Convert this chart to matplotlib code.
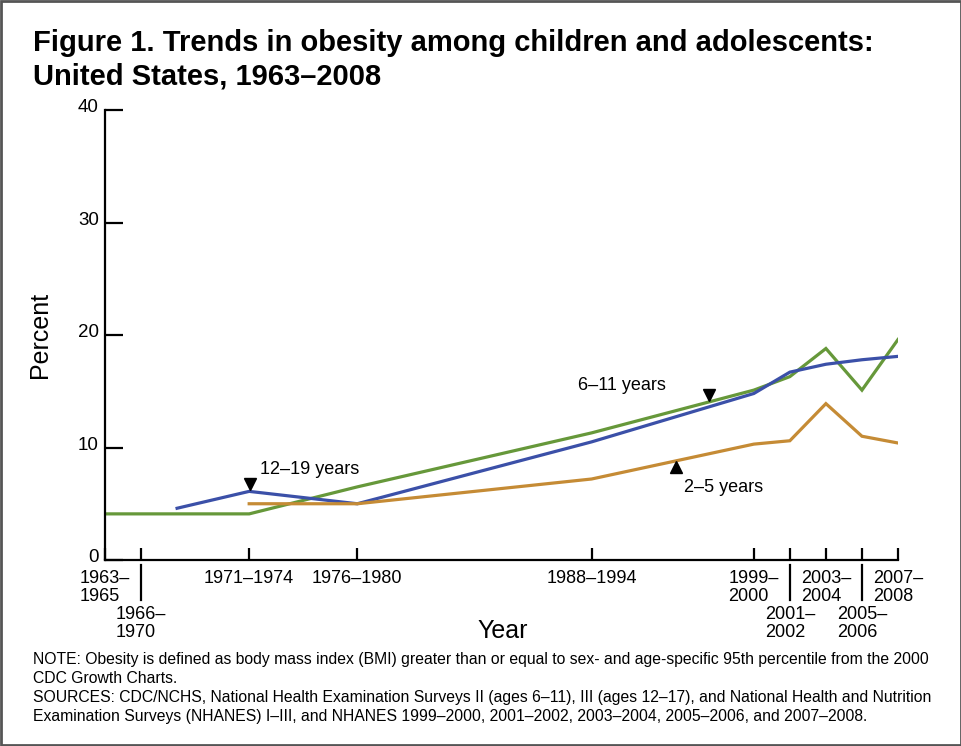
import matplotlib.pyplot as plt
from matplotlib import font_manager
from matplotlib.patches import Rectangle
from matplotlib.transforms import ScaledTranslation

plt.rcParams['font.family'] = ['Liberation Sans', 'DejaVu Sans']

# survey periods, placed on a year scale (position used for each period)
periods = ['1963–\n1965', '1966–\n1970', '1971–1974', '1976–1980', '1988–1994',
           '1999–\n2000', '2001–\n2002', '2003–\n2004', '2005–\n2006', '2007–\n2008']
period_x = [1963, 1965, 1971, 1977, 1990, 1999, 2001, 2003, 2005, 2007]
staggered = [False, True, False, False, False, False, True, False, True, False]

# obesity percent by age group
x_6_11 = [1963, 1971, 1977, 1990, 1999, 2001, 2003, 2005, 2007]
y_6_11 = [4.1, 4.1, 6.5, 11.3, 15.1, 16.3, 18.8, 15.1, 19.6]
x_12_19 = [1967, 1971, 1977, 1990, 1999, 2001, 2003, 2005, 2007]
y_12_19 = [4.6, 6.1, 5.0, 10.5, 14.8, 16.7, 17.4, 17.8, 18.1]
x_2_5 = [1971, 1977, 1990, 1999, 2001, 2003, 2005, 2007]
y_2_5 = [5.0, 5.0, 7.2, 10.3, 10.6, 13.9, 11.0, 10.4]

green = '#66983A'
blue = '#3B50A8'
orange = '#C58B35'

fig = plt.figure(figsize=(9.62, 7.46), dpi=100)
ax = fig.add_axes([105/962, 1 - 560/746, 793/962, 450/746])

ax.plot(x_6_11, y_6_11, color=green, lw=2.3, solid_joinstyle='miter')
ax.plot(x_12_19, y_12_19, color=blue, lw=2.3, solid_joinstyle='miter')
ax.plot(x_2_5, y_2_5, color=orange, lw=2.3, solid_joinstyle='miter')

ax.set_xlim(1963, 2007)
ax.set_ylim(0, 40)
for s in ['top', 'right']:
    ax.spines[s].set_visible(False)
for s in ['left', 'bottom']:
    ax.spines[s].set_linewidth(1.6)

ax.set_yticks([0, 10, 20, 30, 40])
ax.tick_params(axis='y', direction='in', length=13, width=1.6, labelsize=13.5, pad=4.5)
# labels sit a little above their ticks in the original
for lab in ax.get_yticklabels():
    lab.set_transform(lab.get_transform() + ScaledTranslation(0, 3/72, fig.dpi_scale_trans))
ax.set_xticks(period_x)
ax.set_xticklabels([])
ax.tick_params(axis='x', direction='in', length=8.5, width=1.6)

tr = ax.get_xaxis_transform()
for lab, xv, st in zip(periods, period_x, staggered):
    if st:
        ax.plot([xv, xv], [-0.011, -0.089], color='black', lw=1.6,
                transform=tr, clip_on=False)
        ax.text(xv, -0.102, lab, transform=tr, ha='center', va='top',
                multialignment='left', fontsize=13, linespacing=1.05)
    else:
        ax.text(xv, -0.023, lab, transform=tr, ha='center', va='top',
                multialignment='left', fontsize=13, linespacing=1.05)

ax.set_xlabel('Year', fontsize=18)
ax.xaxis.set_label_coords(0.502, -0.131)
ax.set_ylabel('Percent', fontsize=18)
ax.yaxis.set_label_coords(-0.067, 0.5)

# series labels with triangle pointers
ax.plot([1971.05], [6.8], marker='v', color='black', ms=9)
ax.text(1971.6, 8.0, '12–19 years', fontsize=13, va='center', ha='left')
ax.plot([1996.5], [14.7], marker='v', color='black', ms=9)
ax.text(1989.25, 15.5, '6–11 years', fontsize=13, va='center', ha='left')
ax.plot([1994.7], [8.3], marker='^', color='black', ms=9)
ax.text(1995.1, 6.4, '2–5 years', fontsize=13, va='center', ha='left')

fig.text(33/962, 1 - 29/746,
         'Figure 1. Trends in obesity among children and adolescents:\nUnited States, 1963–2008',
         fontsize=21, fontweight='bold', va='top', ha='left', linespacing=1.25)

names = {f.name for f in font_manager.fontManager.ttflist}
note_font = ['Liberation Sans Narrow', 'Liberation Sans'] if 'Liberation Sans Narrow' in names else ['Liberation Sans']
notes = ('NOTE: Obesity is defined as body mass index (BMI) greater than or equal to sex- and age-specific 95th percentile from the 2000\n'
         'CDC Growth Charts.\n'
         'SOURCES: CDC/NCHS, National Health Examination Surveys II (ages 6–11), III (ages 12–17), and National Health and Nutrition\n'
         'Examination Surveys (NHANES) I–III, and NHANES 1999–2000, 2001–2002, 2003–2004, 2005–2006, and 2007–2008.')
fig.text(33/962, 1 - 652/746, notes, fontsize=11.3, family=note_font,
         va='top', ha='left', linespacing=1.33)

fig.patches.append(Rectangle((0.001, 0.001), 0.998, 0.998, transform=fig.transFigure,
                             fill=False, edgecolor='#555555', lw=2))

fig.savefig('out.png', dpi=100)
